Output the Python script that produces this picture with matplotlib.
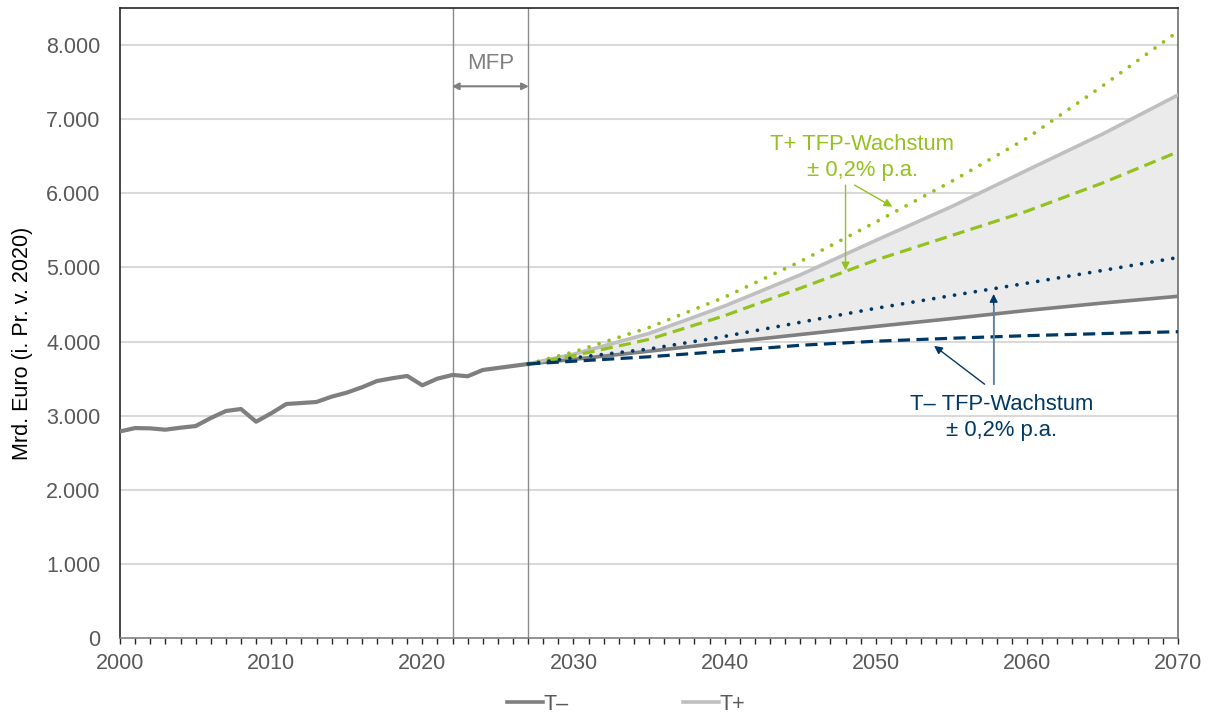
import matplotlib.pyplot as plt

plt.rcParams['font.family'] = ['Liberation Sans', 'DejaVu Sans']

# historical series (Mrd. Euro, prices of 2020)
hist_years = list(range(2000, 2028))
hist_vals = [2788, 2833, 2829, 2811, 2838, 2860, 2968, 3063, 3090, 2919,
             3032, 3158, 3171, 3185, 3257, 3311, 3383, 3468, 3505, 3536,
             3410, 3500, 3550, 3532, 3617, 3644, 3671, 3698]

# projections
proj_years = [2027, 2030, 2035, 2040, 2045, 2050, 2055, 2060, 2065, 2070]
t_minus = [3698, 3760, 3870, 3985, 4095, 4205, 4310, 4420, 4520, 4611]
t_plus = [3698, 3830, 4110, 4480, 4900, 5365, 5820, 6312, 6800, 7328]
tplus_high = [3698, 3860, 4190, 4600, 5080, 5613, 6160, 6745, 7450, 8185]
tplus_low = [3698, 3810, 4030, 4350, 4720, 5100, 5430, 5760, 6140, 6561]
tminus_high = [3698, 3780, 3900, 4070, 4260, 4449, 4620, 4788, 4960, 5135]
tminus_low = [3698, 3735, 3795, 3870, 3950, 4005, 4045, 4080, 4108, 4133]

green = '#95c11f'
navy = '#003865'
dgray = '#7f7f7f'
lgray = '#bfbfbf'
txtgray = '#595959'

fig = plt.figure(figsize=(12.09, 7.13), dpi=100)
ax = fig.add_axes([0.0993, 0.1052, 0.8751, 0.8834])

ax.fill_between(proj_years, t_minus, t_plus, color='#ebebeb', zorder=1, lw=0)
for v in range(1000, 9000, 1000):
    ax.axhline(v, color='#d9d9d9', lw=1.5, zorder=0)

ax.plot(hist_years, hist_vals, color=dgray, lw=3.0, zorder=4)
l1, = ax.plot(proj_years, t_minus, color=dgray, lw=2.6, zorder=3)
l2, = ax.plot(proj_years, t_plus, color=lgray, lw=2.6, zorder=3)
ax.plot(proj_years, tplus_high, color=green, lw=2.7, ls=(0, (0.01, 2.8)),
        dash_capstyle='round', zorder=4)
ax.plot(proj_years, tplus_low, color=green, lw=2.3, ls=(0, (3.8, 2.0)), zorder=4)
ax.plot(proj_years, tminus_high, color=navy, lw=2.7, ls=(0, (0.01, 2.8)),
        dash_capstyle='round', zorder=4)
ax.plot(proj_years, tminus_low, color=navy, lw=2.3, ls=(0, (3.8, 2.0)), zorder=4)

ax.axvline(2022, color='#8c8c8c', lw=1.0, zorder=2)
ax.axvline(2027, color='#8c8c8c', lw=1.0, zorder=2)
ax.annotate('', xy=(2021.95, 7445), xytext=(2027.05, 7445),
            arrowprops=dict(arrowstyle='<|-|>', color='#7f7f7f', lw=1.5,
                            mutation_scale=10, shrinkA=0, shrinkB=0))
ax.text(2024.5, 7756, 'MFP', color='#7f7f7f', fontsize=16, ha='center', va='center')

# annotations
ax.text(2049.1, 6488, 'T+ TFP-Wachstum\n± 0,2% p.a.', color=green, fontsize=15.8,
        ha='center', va='center', linespacing=1.3)
ax.annotate('', xy=(2048.0, 4960), xytext=(2048.0, 6112),
            arrowprops=dict(arrowstyle='-|>', color=green, lw=1.0,
                            mutation_scale=12, shrinkA=0, shrinkB=0))
ax.annotate('', xy=(2051.1, 5820), xytext=(2048.6, 6112),
            arrowprops=dict(arrowstyle='-|>', color=green, lw=1.0,
                            mutation_scale=12, shrinkA=0, shrinkB=0))

ax.text(2058.3, 2978, 'T– TFP-Wachstum\n± 0,2% p.a.', color=navy, fontsize=15.8,
        ha='center', va='center', linespacing=1.3)
ax.annotate('', xy=(2057.8, 4643), xytext=(2057.8, 3425),
            arrowprops=dict(arrowstyle='-|>', color=navy, lw=1.0,
                            mutation_scale=12, shrinkA=0, shrinkB=0))
ax.plot([2057.8, 2057.8], [3425, 4480], color='#6f8fab', lw=1.2, zorder=5)
ax.annotate('', xy=(2053.86, 3943), xytext=(2057.2, 3425),
            arrowprops=dict(arrowstyle='-|>', color=navy, lw=1.0,
                            mutation_scale=12, shrinkA=0, shrinkB=0))

ax.set_xlim(2000, 2070)
ax.set_ylim(0, 8500)
ax.set_xticks(range(2000, 2071, 10))
ax.set_xticks(range(2000, 2071, 1), minor=True)
ax.set_yticks(range(0, 8001, 1000))
ax.set_yticklabels(['0'] + [f'{v // 1000}.000' for v in range(1000, 8001, 1000)])
ax.tick_params(axis='x', which='both', direction='out', length=4.5, width=1,
               color='#262626', labelsize=15.5, labelcolor=txtgray, pad=6)
ax.tick_params(axis='y', length=0, labelsize=15.5, labelcolor=txtgray, pad=14)
for s in ax.spines.values():
    s.set_color('#262626')
    s.set_linewidth(1.2)
ax.spines['bottom'].set_color('#7f7f7f')
ax.spines['right'].set_color('#6f6f6f')

ax.set_ylabel('Mrd. Euro (i. Pr. v. 2020)', fontsize=15.5, color='black')
ax.yaxis.set_label_coords(-0.082, 0.467)

leg = fig.legend([l1, l2], ['T–', 'T+'], loc='lower center', ncol=2,
                 bbox_to_anchor=(0.518, -0.03), frameon=False, fontsize=15.5,
                 handlelength=1.65, handletextpad=0.05, columnspacing=5.3)
for t in leg.get_texts():
    t.set_color(txtgray)

fig.savefig('out.png', dpi=100)
